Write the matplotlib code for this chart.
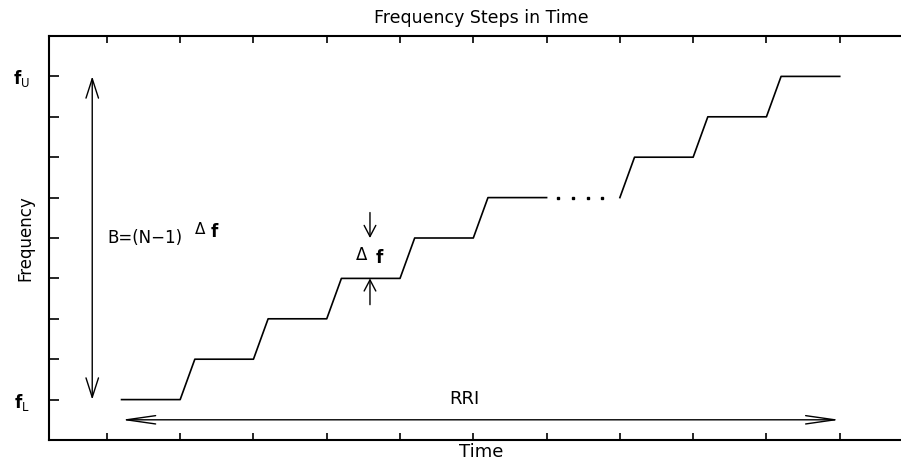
import matplotlib
matplotlib.use("Agg")
import matplotlib.pyplot as plt
from matplotlib.patches import FancyArrowPatch

# staircase of frequency steps (time in chirp units, frequency in step units)
step_start = [0.2, 1.2, 2.2, 3.2, 4.2, 5.2]
step_end = [1.0, 2.0, 3.0, 4.0, 5.0, 6.0]
step_level = [0, 1, 2, 3, 4, 5]
upper_start = [7.0, 7.2, 8.2, 9.2]
upper_end = [7.0, 8.0, 9.0, 10.0]
upper_level = [5, 6, 7, 8]
gap_dots_x = [6.16, 6.36, 6.56, 6.76]
gap_dots_y = [5, 5, 5, 5]

n_steps = 8
xtick_pos = list(range(0, 11))
ytick_pos = list(range(0, n_steps + 1))
ytick_lbl = ['$\\mathbf{f}_{\\mathsf{L}}$'] + [''] * (n_steps - 1) + ['$\\mathbf{f}_{\\mathsf{U}}$']

fig = plt.figure(figsize=(9.01, 4.62), dpi=100)
ax = fig.add_axes([49 / 901, 22 / 462, 864 / 901, 404 / 462])

# build the stepped line: flat segment then ramp to the next level
xs, ys = [], []
for i in range(len(step_start)):
    xs += [step_start[i], step_end[i]]
    ys += [step_level[i], step_level[i]]
ax.plot(xs, ys, color='black', lw=1.2)

xs, ys = [], []
for i in range(len(upper_start)):
    xs += [upper_start[i], upper_end[i]]
    ys += [upper_level[i], upper_level[i]]
ax.plot(xs, ys, color='black', lw=1.2)

ax.plot(gap_dots_x, gap_dots_y, ls='none', marker='s', ms=2, color='black')


def arrow(p0, p1, style):
    a = FancyArrowPatch(p0, p1, arrowstyle=style, mutation_scale=10,
                        color='black', lw=1.0, shrinkA=0, shrinkB=0)
    ax.add_patch(a)


# bandwidth arrow
arrow((-0.2, 0), (-0.2, n_steps), '<->,head_length=1.4,head_width=0.45')
# RRI arrow
arrow((0.2, -0.5), (10.0, -0.5), '<->,head_length=2.1,head_width=0.3')
# step size arrows
arrow((3.59, 4.63), (3.59, 4.0), '->,head_length=0.8,head_width=0.42')
arrow((3.59, 2.35), (3.59, 3.0), '->,head_length=0.8,head_width=0.42')

ax.text(0.0, 4.0, 'B=(N\u22121)', fontsize=12, family='DejaVu Sans',
        ha='left', va='center')
ax.text(1.2, 4.2, '\u0394', fontsize=11, family='DejaVu Sans', ha='left', va='center')
ax.text(1.42, 4.16, 'f', fontsize=12, family='DejaVu Sans', weight='bold',
        ha='left', va='center')

ax.text(3.4, 3.57, '\u0394', fontsize=12, family='DejaVu Sans', ha='left', va='center')
ax.text(3.67, 3.5, 'f', fontsize=12, family='DejaVu Sans', weight='bold',
        ha='left', va='center')

ax.text(4.88, 0.02, 'RRI', fontsize=13, family='DejaVu Sans', ha='center', va='center')

ax.set_xlim(-0.79, 11.0)
ax.set_ylim(-1, 9)
ax.set_xticks(xtick_pos)
ax.set_xticklabels([])
ax.set_yticks(ytick_pos)
ax.set_yticklabels(ytick_lbl, fontsize=12)
ax.tick_params(axis='x', direction='in', length=5, width=1.2, top=True, bottom=True)
ax.tick_params(axis='y', direction='in', length=7, width=1.2, pad=14)
for s in ax.spines.values():
    s.set_linewidth(1.5)
ax.spines['right'].set_visible(False)

fig.text(481 / 901, 1 - 18 / 462, 'Frequency Steps in Time', fontsize=12.5,
         family='DejaVu Sans', ha='center', va='center')
fig.text(481 / 901, 1 - 452 / 462, 'Time', fontsize=13, family='DejaVu Sans',
         ha='center', va='center')
fig.text(25 / 901, 1 - 238 / 462, 'Frequency', fontsize=12, rotation=90,
         family=['Liberation Sans Narrow', 'DejaVu Sans'], ha='center', va='center')

fig.savefig('out.png', dpi=100)
